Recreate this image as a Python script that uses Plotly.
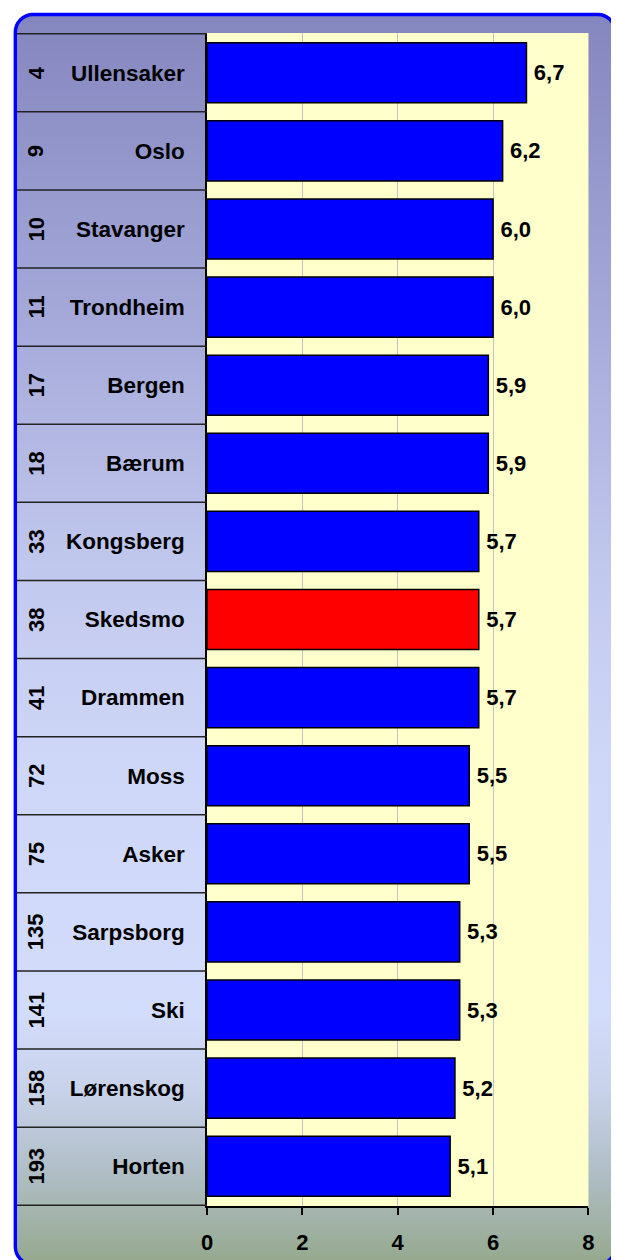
import base64
import plotly.graph_objects as go

# Municipalities with their national rank and score
ranks = [4, 9, 10, 11, 17, 18, 33, 38, 41, 72, 75, 135, 141, 158, 193]
names = ["Ullensaker", "Oslo", "Stavanger", "Trondheim", "Bergen", "Bærum",
         "Kongsberg", "Skedsmo", "Drammen", "Moss", "Asker", "Sarpsborg",
         "Ski", "Lørenskog", "Horten"]
scores = [6.7, 6.2, 6.0, 6.0, 5.9, 5.9, 5.7, 5.7, 5.7, 5.5, 5.5, 5.3, 5.3, 5.2, 5.1]
highlight = "Skedsmo"
x_ticks = [0, 2, 4, 6, 8]

W, H = 617, 1260
PLOT_L, PLOT_R, PLOT_T, PLOT_B = 205, 594, 33, 1206
LABEL_COL_L = 11

FAMILY = "Liberation Sans, Arial, sans-serif"
FONT = dict(family=FAMILY, size=22, color="black", weight="bold")
NAME_FONT = dict(family=FAMILY, size=22.5, color="black", weight="bold")

bar_colors = ["#FF0000" if n == highlight else "#0000FF" for n in names]
value_text = ["\u2009" + f"{v:.1f}".replace(".", ",") for v in scores]

fig = go.Figure(go.Bar(
    x=scores, y=names, orientation="h",
    marker=dict(color=bar_colors, line=dict(color="black", width=1.5)),
    text=value_text, textposition="outside", textfont=FONT,
    cliponaxis=False, hoverinfo="skip",
))

# Gradient panel with rounded blue frame
svg = f"""<svg xmlns='http://www.w3.org/2000/svg' width='{W}' height='{H}' viewBox='0 0 {W} {H}'>
<defs><linearGradient id='g' x1='0' y1='0' x2='0' y2='1'>
<stop offset='0' stop-color='#8486BE'/>
<stop offset='0.25' stop-color='#A6AADA'/>
<stop offset='0.45' stop-color='#C2C9EE'/>
<stop offset='0.6' stop-color='#CFD7F8'/>
<stop offset='0.8' stop-color='#D2DCFB'/>
<stop offset='0.86' stop-color='#C8D2EA'/>
<stop offset='0.92' stop-color='#B2C0CA'/>
<stop offset='1' stop-color='#94A88C'/>
</linearGradient></defs>
<rect x='9.5' y='14.5' width='612' height='1250' rx='18' ry='18' fill='url(#g)' stroke='#0000FF' stroke-width='3.5'/>
</svg>"""
bg_uri = "data:image/svg+xml;base64," + base64.b64encode(svg.encode("utf-8")).decode("ascii")

shapes = [
    # plot area fill
    dict(type="rect", xref="x domain", yref="y domain", x0=0, x1=1, y0=0, y1=1,
         fillcolor="#FFFFCC", line=dict(width=0), layer="below"),
]
# row separators in the label column
for i in range(len(names) + 1):
    shapes.append(dict(type="line", xref="paper", yref="y",
                       x0=LABEL_COL_L / W, x1=PLOT_L / W, y0=i - 0.5, y1=i - 0.5,
                       line=dict(color="#222222", width=1.5)))

annotations = [
    dict(x=31 / W, xref="paper", y=n, yref="y", text=str(r), textangle=-90,
         showarrow=False, font=FONT, xanchor="center", yanchor="middle")
    for r, n in zip(ranks, names)
]

fig.update_layout(
    width=W, height=H,
    margin=dict(l=0, r=0, t=0, b=0),
    paper_bgcolor="white", plot_bgcolor="rgba(0,0,0,0)",
    showlegend=False, bargap=0.23,
    images=[dict(source=bg_uri, xref="paper", yref="paper", x=0, y=1, sizex=1, sizey=1,
                 xanchor="left", yanchor="top", sizing="stretch", layer="below")],
    shapes=shapes, annotations=annotations,
    xaxis=dict(domain=[PLOT_L / W, PLOT_R / W], range=[0, 8], tickvals=x_ticks,
               showgrid=True, gridcolor="#C4C4C4", gridwidth=1, zeroline=False,
               showline=True, linecolor="black", linewidth=1.5,
               ticks="outside", ticklen=7, tickwidth=1.5, tickcolor="black",
               tickfont=FONT, ticklabelstandoff=9, fixedrange=True),
    yaxis=dict(domain=[1 - PLOT_B / H, 1 - PLOT_T / H], autorange="reversed",
               showgrid=False, zeroline=False, showline=True, linecolor="black",
               linewidth=1.5, ticks="", tickfont=NAME_FONT, ticklabelstandoff=16,
               fixedrange=True),
)

fig.write_html("out.html")
